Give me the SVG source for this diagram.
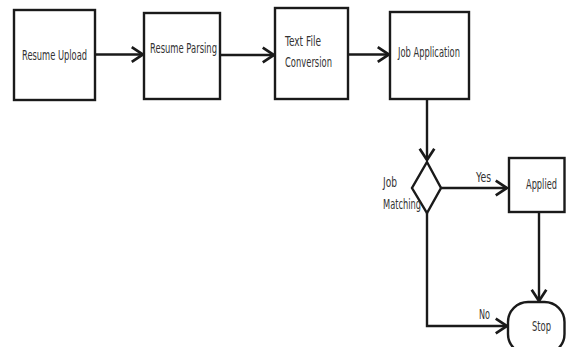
<svg xmlns="http://www.w3.org/2000/svg" width="566" height="347" viewBox="0 0 566 347">
<style>
.box{fill:#fff;stroke:#1a1a1a;stroke-width:2.4}
.t{font-family:"DejaVu Sans","Liberation Sans",sans-serif;font-size:13.5px;fill:#333}
.c{fill:none;stroke:#1a1a1a;stroke-width:2.4}
</style>
<defs>
<marker id="ah" markerUnits="userSpaceOnUse" markerWidth="16" markerHeight="18" viewBox="-12 -8 14 16" refX="0" refY="0" orient="auto">
<path d="M-10,-6.5 L0,0 L-10,6.5" fill="none" stroke="#1a1a1a" stroke-width="2.4"/>
</marker>
</defs>
<rect width="566" height="347" fill="#fff"/>
<g id="connectors">
<path class="c" d="M95,54.5 H143" marker-end="url(#ah)"/>
<path class="c" d="M220,55 H274" marker-end="url(#ah)"/>
<path class="c" d="M348,54.5 H389" marker-end="url(#ah)"/>
<path class="c" d="M427,99 V160" marker-end="url(#ah)"/>
<path class="c" d="M441,188 H507" marker-end="url(#ah)"/>
<path class="c" d="M539,212 V301" marker-end="url(#ah)"/>
<path class="c" d="M427,213 V326 H507" marker-end="url(#ah)"/>
<text class="t" x="476" y="182" textLength="15" lengthAdjust="spacingAndGlyphs">Yes</text>
<text class="t" x="479" y="319" textLength="11" lengthAdjust="spacingAndGlyphs">No</text>
</g>
<g id="resume-upload">
<rect class="box" x="14" y="10" width="81" height="90"/>
<text class="t" x="22" y="60" textLength="65" lengthAdjust="spacingAndGlyphs">Resume Upload</text>
</g>
<g id="resume-parsing">
<rect class="box" x="144" y="13" width="76" height="86"/>
<text class="t" x="150" y="53" textLength="67" lengthAdjust="spacingAndGlyphs">Resume Parsing</text>
</g>
<g id="text-file-conversion">
<rect class="box" x="275" y="8" width="73" height="91"/>
<text class="t" x="285" y="46" textLength="36" lengthAdjust="spacingAndGlyphs">Text File</text>
<text class="t" x="285" y="67" textLength="47" lengthAdjust="spacingAndGlyphs">Conversion</text>
</g>
<g id="job-application">
<rect class="box" x="390" y="12" width="79" height="87"/>
<text class="t" x="398" y="57" textLength="62" lengthAdjust="spacingAndGlyphs">Job Application</text>
</g>
<g id="job-matching">
<path class="box" d="M427,162 L441,188 L427,213 L412,188 Z"/>
<text class="t" x="383" y="187" textLength="14" lengthAdjust="spacingAndGlyphs">Job</text>
<text class="t" x="383" y="209" textLength="38" lengthAdjust="spacingAndGlyphs">Matching</text>
</g>
<g id="applied">
<rect class="box" x="509" y="158" width="55.5" height="54"/>
<text class="t" x="526" y="189" textLength="31" lengthAdjust="spacingAndGlyphs">Applied</text>
</g>
<g id="stop">
<rect class="box" x="508" y="302" width="56.5" height="52" rx="20" ry="20"/>
<text class="t" x="532" y="331" textLength="19" lengthAdjust="spacingAndGlyphs">Stop</text>
</g>
</svg>
